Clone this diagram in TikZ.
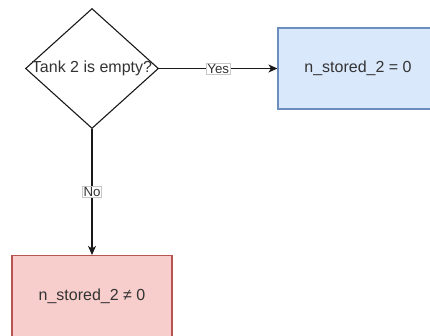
\documentclass[tikz,border=0pt]{standalone}
\usepackage{fontspec}
\setmainfont{Liberation Sans}
\usetikzlibrary{arrows.meta}
\usetikzlibrary{shapes.geometric}
\usetikzlibrary{positioning}
\definecolor{fc-line}{HTML}{1A1A1A}
\definecolor{fc-text}{HTML}{333333}
\definecolor{fc-blue}{HTML}{DAE8FC}
\definecolor{fc-blueline}{HTML}{6C8EBF}
\definecolor{fc-red}{HTML}{F8CECC}
\definecolor{fc-redline}{HTML}{B85450}
\definecolor{fc-tag}{HTML}{C8C8C8}

\begin{document}
\begin{tikzpicture}[
    x=1pt, y=1pt,
    >={Stealth[length=9pt, width=8pt, inset=2.5pt]},
    decision/.style={diamond, draw=fc-line, line width=1.1pt, fill=white,
                     minimum width=133pt, minimum height=120pt,
                     inner sep=0pt, text=fc-text,
                     font=\fontsize{16}{19}\selectfont},
    result/.style={rectangle, line width=1.1pt,
                   minimum width=160pt, minimum height=81pt,
                   inner sep=0pt, text=fc-text,
                   font=\fontsize{16}{19}\selectfont},
    conn/.style={->, draw=fc-line, line width=1.1pt},
    tag/.style={draw=fc-tag, line width=0.6pt, fill=white, inner sep=1pt,
                text=fc-text, font=\fontsize{13.3}{15}\selectfont}
]
\useasboundingbox (0,0) rectangle (430,335);

% =========================================================================
% DECISION
% =========================================================================
\node[decision] (tank) at (92,266.5) {\makebox[0pt]{Tank 2 is empty?}};

% =========================================================================
% RESULTS
% =========================================================================
\node[result, fill=fc-blue, draw=fc-blueline] (empty) at (358,266.5) {n\_stored\_2 = 0};
\node[result, fill=fc-red, draw=fc-redline] (notempty) at (92,39) {n\_stored\_2 ≠ 0};

% =========================================================================
% BRANCHES
% =========================================================================
\draw[conn] (tank.east) -- node[tag] {Yes} (empty.west);
\draw[conn] (tank.south) -- node[tag] {No} (notempty.north);

\end{tikzpicture}
\end{document}
